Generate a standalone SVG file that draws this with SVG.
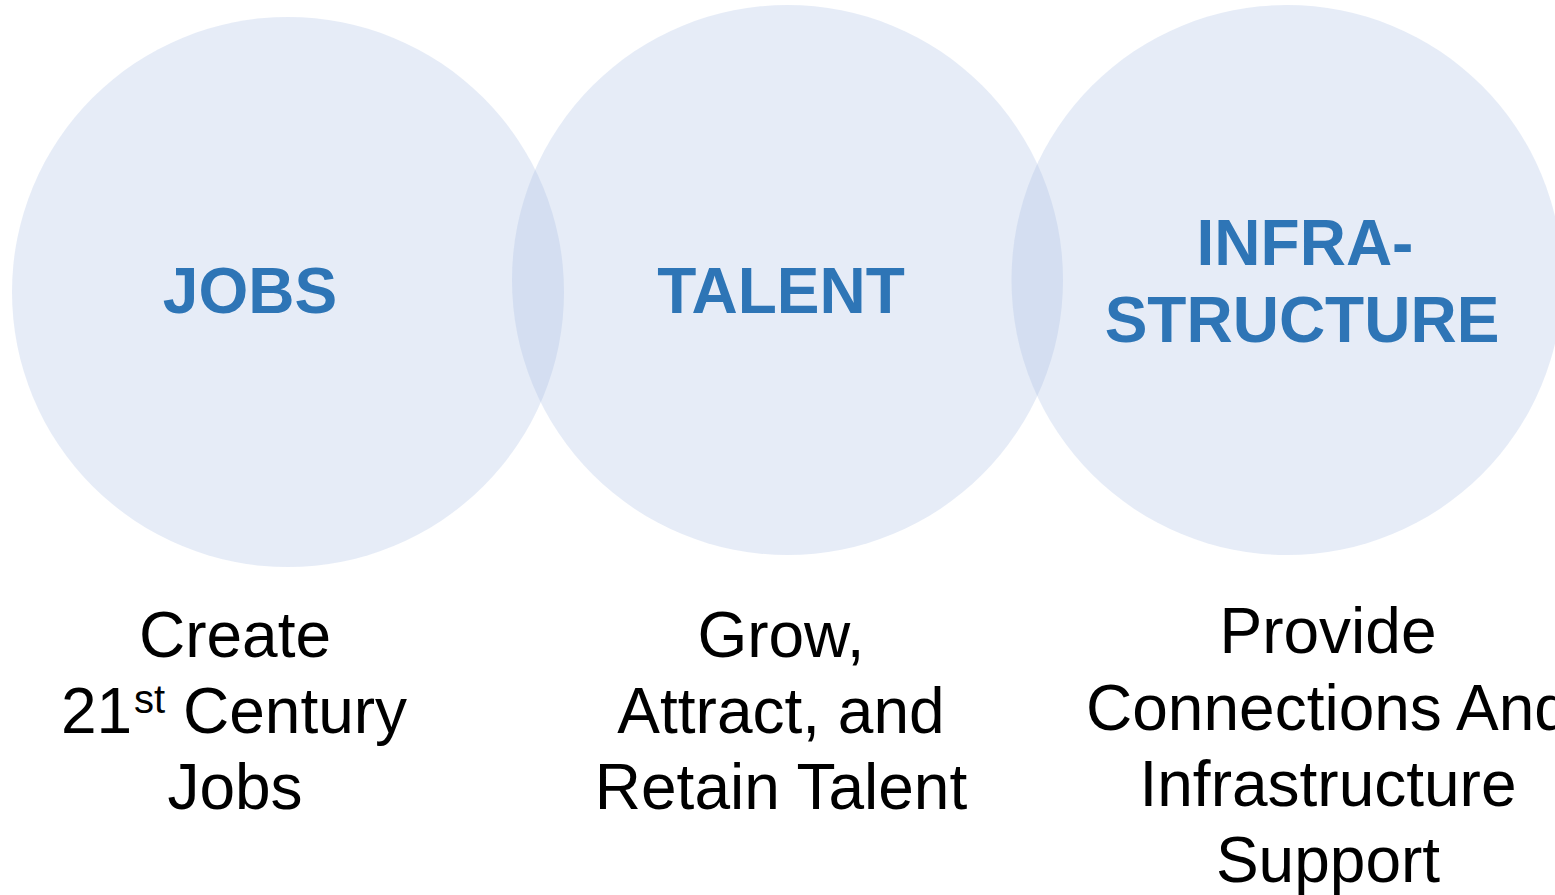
<svg xmlns="http://www.w3.org/2000/svg" width="1555" height="895" viewBox="0 0 1555 895">
<style>
.c{fill:rgb(166,187,226);fill-opacity:0.28}
.h{font-family:"Liberation Sans",Arial,sans-serif;font-weight:bold;font-size:64px;fill:#2E75B6;text-anchor:middle}
.t{font-family:"Liberation Sans",Arial,sans-serif;font-size:64px;fill:#000;text-anchor:middle}
</style>
<rect width="1555" height="895" fill="#fff"/>
<g id="connectors"></g>
<g id="jobs">
<ellipse class="c" cx="288" cy="292" rx="276" ry="275"/>
<text class="h" x="250" y="313">JOBS</text>
<text class="t" x="235" y="657">Create</text>
<text class="t" x="234" y="733">21<tspan font-size="40" dx="2" dy="-20">st</tspan><tspan dy="20"> Century</tspan></text>
<text class="t" x="235" y="809">Jobs</text>
</g>
<g id="talent">
<ellipse class="c" cx="787.5" cy="280" rx="275.5" ry="275"/>
<text class="h" x="781" y="313">TALENT</text>
<text class="t" x="781" y="657">Grow,</text>
<text class="t" x="781" y="733">Attract, and</text>
<text class="t" x="781" y="809">Retain Talent</text>
</g>
<g id="infrastructure">
<ellipse class="c" cx="1287" cy="280" rx="275.5" ry="275"/>
<text class="h" x="1305" y="265">INFRA-</text>
<text class="h" x="1302" y="342">STRUCTURE</text>
<text class="t" x="1328" y="653">Provide</text>
<text class="t" x="1328" y="730">Connections And</text>
<text class="t" x="1328" y="806">Infrastructure</text>
<text class="t" x="1328" y="882">Support</text>
</g>
</svg>
